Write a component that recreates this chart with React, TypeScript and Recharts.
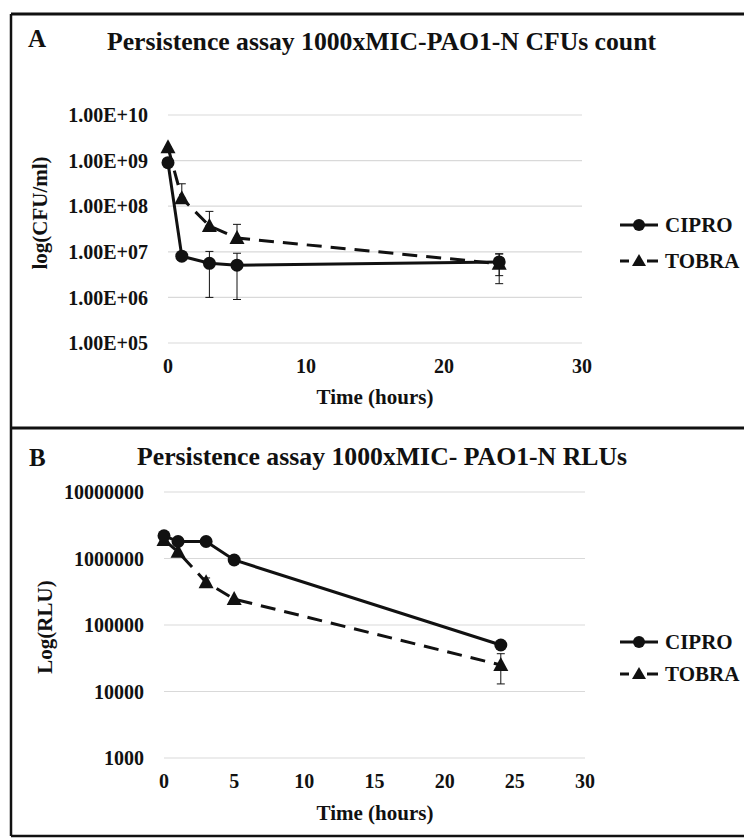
import React from 'react';
import { LineChart, Line, XAxis, YAxis, CartesianGrid, ErrorBar, Legend } from 'recharts';

const FONT = "'Liberation Serif', 'Times New Roman', serif";
const INK = '#111111';
const GRID = '#d9d9d9';

const hours = [0, 1, 3, 5, 24];
const seriesNames = ['CIPRO', 'TOBRA'];

// panel A: CFU counts, errors as [below, above]
const cfuCipro = [9.0e8, 8.0e6, 5.6e6, 5.1e6, 6.0e6];
const cfuCiproErr = [[0, 0], [1.5e6, 1.5e6], [4.6e6, 4.6e6], [4.2e6, 4.2e6], [3.0e6, 3.0e6]];
const cfuTobra = [1.95e9, 1.5e8, 3.7e7, 2.0e7, 5.5e6];
const cfuTobraErr = [[0, 0], [0, 1.6e8], [0, 4.0e7], [0, 2.0e7], [3.5e6, 3.5e6]];
const cfuTicks = [1e5, 1e6, 1e7, 1e8, 1e9, 1e10];
const cfuTickLabels = ['1.00E+05', '1.00E+06', '1.00E+07', '1.00E+08', '1.00E+09', '1.00E+10'];
const cfuHourTicks = [0, 10, 20, 30];

// panel B: RLUs
const rluCipro = [2.2e6, 1.8e6, 1.8e6, 9.5e5, 5.0e4];
const rluCiproErr = [[0, 0], [0, 0], [0, 0], [0, 0], [3e3, 3e3]];
const rluTobra = [1.9e6, 1.26e6, 4.4e5, 2.45e5, 2.5e4];
const rluTobraErr = [[0, 0], [0, 0], [7e4, 7e4], [0, 0], [1.2e4, 1.2e4]];
const rluTicks = [1e3, 1e4, 1e5, 1e6, 1e7];
const rluTickLabels = ['1000', '10000', '100000', '1000000', '10000000'];
const rluHourTicks = [0, 5, 10, 15, 20, 25, 30];

const cfuRows = hours.map((h, i) => ({
  hour: h,
  cipro: cfuCipro[i],
  ciproErr: cfuCiproErr[i],
  tobra: cfuTobra[i],
  tobraErr: cfuTobraErr[i],
}));

const rluRows = hours.map((h, i) => ({
  hour: h,
  cipro: rluCipro[i],
  ciproErr: rluCiproErr[i],
  tobra: rluTobra[i],
  tobraErr: rluTobraErr[i],
}));

const CircleDot = (p: any) =>
  p.cx == null ? null : <circle key={`c${p.index}`} cx={p.cx} cy={p.cy} r={6.5} fill={INK} />;

const TriangleDot = (p: any) =>
  p.cx == null ? null : (
    <polygon
      key={`t${p.index}`}
      points={`${p.cx},${p.cy - 8} ${p.cx - 7.5},${p.cy + 6} ${p.cx + 7.5},${p.cy + 6}`}
      fill={INK}
    />
  );

// axis title at a fixed spot; "rot" because Label injects its own angle prop
const AxisTitle = ({ text, tx, ty, rot = 0 }: any) => (
  <text
    x={tx}
    y={ty}
    transform={rot ? `rotate(${rot} ${tx} ${ty})` : undefined}
    textAnchor="middle"
    fontFamily={FONT}
    fontWeight={700}
    fontSize={21}
    fill={INK}
  >
    {text}
  </text>
);

const legendRows = (rowH: number) => () => (
  <div style={{ fontFamily: FONT, fontWeight: 700, fontSize: 21, color: INK }}>
    {seriesNames.map((name) => (
      <div key={name} style={{ display: 'flex', alignItems: 'center', height: rowH }}>
        <svg width={40} height={20}>
          {name === 'CIPRO' ? (
            <g>
              <line x1={1} y1={10} x2={39} y2={10} stroke={INK} strokeWidth={3} />
              <circle cx={20} cy={10} r={6} fill={INK} />
            </g>
          ) : (
            <g>
              <line x1={1} y1={10} x2={39} y2={10} stroke={INK} strokeWidth={3} strokeDasharray="9 4 0 14 12" />
              <polygon points="20,3 13,15 27,15" fill={INK} />
            </g>
          )}
        </svg>
        <span style={{ marginLeft: 6 }}>{name}</span>
      </div>
    ))}
  </div>
);

type PanelProps = {
  rows: any[];
  height: number;
  margin: { top: number; right: number; bottom: number; left: number };
  yTicks: number[];
  yTickLabels: string[];
  xTicks: number[];
  tickSize: number;
  yTitle: string;
  yTitlePos: [number, number];
  xTitlePos: [number, number];
  legendTop: number;
  legendRowH: number;
};

const Panel = (p: PanelProps) => {
  const tickStyle = { fontFamily: FONT, fontSize: p.tickSize, fontWeight: 700, fill: INK };
  return (
    <LineChart width={744} height={p.height} data={p.rows} margin={p.margin}>
      <CartesianGrid vertical={false} stroke={GRID} strokeWidth={1.2} />
      <XAxis
        type="number"
        dataKey="hour"
        domain={[0, 30]}
        ticks={p.xTicks}
        axisLine={false}
        tickLine={false}
        tickSize={0}
        tickMargin={16}
        height={40}
        tick={tickStyle}
        label={<AxisTitle text="Time (hours)" tx={p.xTitlePos[0]} ty={p.xTitlePos[1]} />}
      />
      <YAxis
        type="number"
        scale="log"
        domain={[p.yTicks[0], p.yTicks[p.yTicks.length - 1]]}
        allowDataOverflow
        ticks={p.yTicks}
        tickFormatter={(v: number) => p.yTickLabels[p.yTicks.indexOf(v)] ?? String(v)}
        axisLine={false}
        tickLine={false}
        tickSize={0}
        tickMargin={20}
        width={110}
        tick={tickStyle}
        label={<AxisTitle text={p.yTitle} tx={p.yTitlePos[0]} ty={p.yTitlePos[1]} rot={-90} />}
      />
      <Legend
        layout="vertical"
        align="center"
        verticalAlign="middle"
        wrapperStyle={{ left: 619, top: p.legendTop, width: 125 }}
        content={legendRows(p.legendRowH)}
      />
      <Line
        type="linear"
        dataKey="tobra"
        name="TOBRA"
        stroke={INK}
        strokeWidth={3}
        strokeDasharray="15 9"
        dot={TriangleDot}
        activeDot={false}
        isAnimationActive={false}
      >
        <ErrorBar dataKey="tobraErr" direction="y" width={4} stroke={INK} strokeWidth={1} isAnimationActive={false} />
      </Line>
      <Line
        type="linear"
        dataKey="cipro"
        name="CIPRO"
        stroke={INK}
        strokeWidth={3}
        dot={CircleDot}
        activeDot={false}
        isAnimationActive={false}
      >
        <ErrorBar dataKey="ciproErr" direction="y" width={4} stroke={INK} strokeWidth={1} isAnimationActive={false} />
      </Line>
    </LineChart>
  );
};

export default function App() {
  return (
    <div
      style={{
        position: 'absolute',
        left: 0,
        top: 0,
        width: 744,
        height: 838,
        background: '#fff',
        overflow: 'hidden',
      }}
    >
      <svg width={744} height={838} style={{ position: 'absolute', left: 0, top: 0 }}>
        <line x1={11} y1={14} x2={744} y2={14} stroke={INK} strokeWidth={3} />
        <line x1={11} y1={14} x2={11} y2={836} stroke={INK} strokeWidth={2.5} />
        <line x1={11} y1={428} x2={744} y2={428} stroke={INK} strokeWidth={3} />
        <line x1={11} y1={836} x2={744} y2={836} stroke={INK} strokeWidth={2.5} />
        <g fontFamily={FONT} fontWeight={700} fill={INK}>
          <text x={28} y={47} fontSize={25}>A</text>
          <text x={107} y={50} fontSize={25.5} textLength={549} lengthAdjust="spacingAndGlyphs">
            Persistence assay 1000xMIC-PAO1-N CFUs count
          </text>
          <text x={29} y={466} fontSize={25}>B</text>
          <text x={137} y={465} fontSize={25.5} textLength={490} lengthAdjust="spacingAndGlyphs">
            Persistence assay 1000xMIC- PAO1-N RLUs
          </text>
        </g>
      </svg>
      <div style={{ position: 'absolute', left: 0, top: 0 }}>
        <Panel
          rows={cfuRows}
          height={420}
          margin={{ top: 115, right: 162, bottom: 37, left: 58 }}
          yTicks={cfuTicks}
          yTickLabels={cfuTickLabels}
          xTicks={cfuHourTicks}
          tickSize={20}
          yTitle="log(CFU/ml)"
          yTitlePos={[47, 213]}
          xTitlePos={[375, 404]}
          legendTop={207}
          legendRowH={36}
        />
      </div>
      <div style={{ position: 'absolute', left: 0, top: 420 }}>
        <Panel
          rows={rluRows}
          height={418}
          margin={{ top: 72, right: 159, bottom: 40, left: 54 }}
          yTicks={rluTicks}
          yTickLabels={rluTickLabels}
          xTicks={rluHourTicks}
          tickSize={20}
          yTitle="Log(RLU)"
          yTitlePos={[52, 207]}
          xTitlePos={[375, 400]}
          legendTop={206}
          legendRowH={32}
        />
      </div>
    </div>
  );
}
